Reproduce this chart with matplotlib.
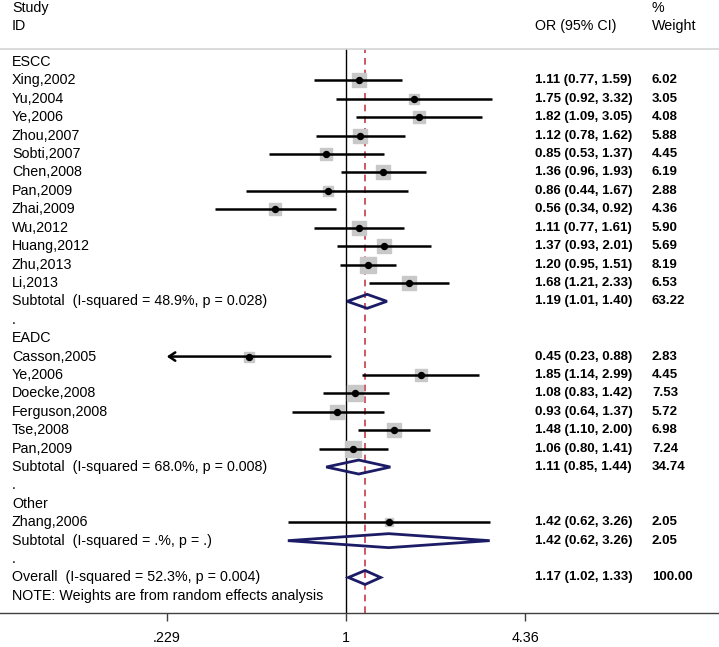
import numpy as np
import matplotlib
matplotlib.use("Agg")
import matplotlib.pyplot as plt
from matplotlib.transforms import blended_transform_factory
from matplotlib.patches import Polygon

plt.rcParams['font.family'] = ['Liberation Sans', 'DejaVu Sans']
FS = 10.3      # labels
FS_NUM = 9.5   # bold stats column

# ---- data ----
escc_ids = ["Xing,2002", "Yu,2004", "Ye,2006", "Zhou,2007", "Sobti,2007", "Chen,2008",
            "Pan,2009", "Zhai,2009", "Wu,2012", "Huang,2012", "Zhu,2013", "Li,2013"]
escc_or = [1.11, 1.75, 1.82, 1.12, 0.85, 1.36, 0.86, 0.56, 1.11, 1.37, 1.20, 1.68]
escc_lo = [0.77, 0.92, 1.09, 0.78, 0.53, 0.96, 0.44, 0.34, 0.77, 0.93, 0.95, 1.21]
escc_hi = [1.59, 3.32, 3.05, 1.62, 1.37, 1.93, 1.67, 0.92, 1.61, 2.01, 1.51, 2.33]
escc_w = [6.02, 3.05, 4.08, 5.88, 4.45, 6.19, 2.88, 4.36, 5.90, 5.69, 8.19, 6.53]

eadc_ids = ["Casson,2005", "Ye,2006", "Doecke,2008", "Ferguson,2008", "Tse,2008", "Pan,2009"]
eadc_or = [0.45, 1.85, 1.08, 0.93, 1.48, 1.06]
eadc_lo = [0.23, 1.14, 0.83, 0.64, 1.10, 0.80]
eadc_hi = [0.88, 2.99, 1.42, 1.37, 2.00, 1.41]
eadc_w = [2.83, 4.45, 7.53, 5.72, 6.98, 7.24]

other_ids = ["Zhang,2006"]
other_or = [1.42]
other_lo = [0.62]
other_hi = [3.26]
other_w = [2.05]

group_names = ["ESCC", "EADC", "Other"]
sub_labels = ["Subtotal  (I-squared = 48.9%, p = 0.028)",
              "Subtotal  (I-squared = 68.0%, p = 0.008)",
              "Subtotal  (I-squared = .%, p = .)"]
sub_or = [1.19, 1.11, 1.42]
sub_lo = [1.01, 0.85, 0.62]
sub_hi = [1.40, 1.44, 3.26]
sub_w = [63.22, 34.74, 2.05]

overall_label = "Overall  (I-squared = 52.3%, p = 0.004)"
overall_or, overall_lo, overall_hi, overall_w = 1.17, 1.02, 1.33, 100.00
note = "NOTE: Weights are from random effects analysis"

xticks = [0.229, 1, 4.36]
xtick_labels = [".229", "1", "4.36"]

groups = [
    (escc_ids, escc_or, escc_lo, escc_hi, escc_w),
    (eadc_ids, eadc_or, eadc_lo, eadc_hi, eadc_w),
    (other_ids, other_or, other_lo, other_hi, other_w),
]

# ---- layout (pixels of 719x647 canvas) ----
W, H = 719, 647
fig = plt.figure(figsize=(W / 100, H / 100), dpi=100)
y_top_px, y_bot_px = 49, 613
ax = fig.add_axes([0, (H - y_bot_px) / H, 1, (y_bot_px - y_top_px) / H])

row0_px, row_px = 62, 18.41
ax.set_ylim((y_bot_px - row0_px) / row_px, (y_top_px - row0_px) / row_px)

px_per_ln, x1_px = 121.6, 346
ax.set_xscale('log')
ax.set_xlim(np.exp(-x1_px / px_per_ln), np.exp((W - x1_px) / px_per_ln))

for s in ['left', 'right']:
    ax.spines[s].set_visible(False)
ax.spines['top'].set_color('#d4d4d4')
ax.spines['top'].set_linewidth(1.2)
ax.spines['bottom'].set_color('#404040')
ax.spines['bottom'].set_linewidth(1.0)
ax.set_yticks([])
ax.set_xticks(xticks)
ax.set_xticklabels(xtick_labels, fontsize=FS)
ax.xaxis.set_minor_locator(matplotlib.ticker.NullLocator())
ax.tick_params(axis='x', length=6, width=1, color='#404040', pad=7)

tr = blended_transform_factory(ax.transAxes, ax.transData)
x_lab = 12 / W
x_or = 535 / W
x_wt = 652 / W

def row_y(px):
    return (px - row0_px) / row_px

def label(x, y, s, **kw):
    ax.text(x, y, s, transform=tr, fontsize=FS, va='center', clip_on=False, **kw)

# header
label(x_lab, row_y(8), "Study")
label(x_lab, row_y(26), "ID")
label(x_or, row_y(26), "OR (95% CI)")
label(x_wt, row_y(8), "%")
label(x_wt, row_y(26), "Weight")

# reference lines
ax.axvline(1, color='black', lw=1.0, zorder=1)
ax.axvline(overall_or, color='#c43c46', lw=1.2, ls=(0, (4, 3)), zorder=1)

xmin = xticks[0]
diamond_color = '#1c1c66'
dh = 0.38

def diamond(y, est, lo, hi):
    p = Polygon([(lo, y), (est, y - dh), (hi, y), (est, y + dh)], closed=True,
                fill=False, edgecolor=diamond_color, lw=2.0, zorder=4)
    ax.add_patch(p)

def stats_text(y, est, lo, hi, w):
    ax.text(x_or, y, f"{est:.2f} ({lo:.2f}, {hi:.2f})", transform=tr, fontsize=FS_NUM,
            va='center', fontweight='bold')
    ax.text(x_wt, y, f"{w:.2f}", transform=tr, fontsize=FS_NUM, va='center',
            fontweight='bold')

y = 0
for gi, (ids, ors, los, his, ws) in enumerate(groups):
    label(x_lab, y, group_names[gi])
    y += 1
    for name, est, lo, hi, w in zip(ids, ors, los, his, ws):
        label(x_lab, y, name)
        if lo <= xmin * 1.01:
            ax.annotate('', xy=(xmin, y), xytext=(hi, y),
                        arrowprops=dict(arrowstyle='->,head_length=0.45,head_width=0.3',
                                        lw=1.8, color='black', shrinkA=0, shrinkB=0))
        else:
            ax.plot([lo, hi], [y, y], color='black', lw=1.8, zorder=3, solid_capstyle='butt')
        side = 5.6 * np.sqrt(w)
        ax.plot(est, y, marker='s', ms=side * 0.72, color='#c8c8c8', mec='#c8c8c8',
                zorder=2)
        ax.plot(est, y, marker='o', ms=4.3, color='black', zorder=5)
        stats_text(y, est, lo, hi, w)
        y += 1
    label(x_lab, y, sub_labels[gi])
    diamond(y, sub_or[gi], sub_lo[gi], sub_hi[gi])
    stats_text(y, sub_or[gi], sub_lo[gi], sub_hi[gi], sub_w[gi])
    y += 1
    label(x_lab, y, ".")
    y += 1

label(x_lab, y, overall_label)
diamond(y, overall_or, overall_lo, overall_hi)
stats_text(y, overall_or, overall_lo, overall_hi, overall_w)
label(x_lab, y + 1, note)

fig.savefig("out.png", dpi=100)
